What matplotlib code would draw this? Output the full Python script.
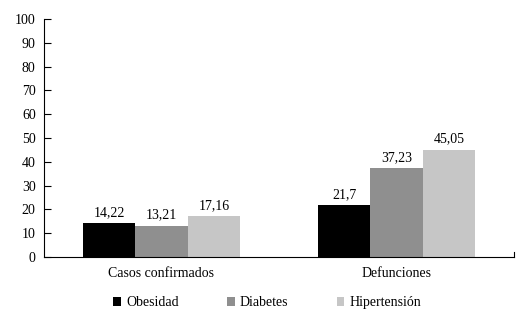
import matplotlib
matplotlib.use("Agg")
import matplotlib.pyplot as plt
import numpy as np

plt.rcParams['font.family'] = ['Liberation Serif', 'DejaVu Serif']

categories = ['Casos confirmados', 'Defunciones']
series = ['Obesidad', 'Diabetes', 'Hipertensión']
values = {
    'Obesidad': [14.22, 21.7],
    'Diabetes': [13.21, 37.23],
    'Hipertensión': [17.16, 45.05],
}
value_labels = {
    'Obesidad': ['14,22', '21,7'],
    'Diabetes': ['13,21', '37,23'],
    'Hipertensión': ['17,16', '45,05'],
}
colors = ['#000000', '#8f8f8f', '#c6c6c6']

fig = plt.figure(figsize=(5.27, 3.23), dpi=100)
ax = fig.add_axes([0.0835, 0.2043, 0.8918, 0.7369])

x = np.arange(len(categories))
width = 0.223
for i, s in enumerate(series):
    pos = x + (i - 1) * width
    bars = ax.bar(pos, values[s], width, color=colors[i], label=s)
    for b, lab in zip(bars, value_labels[s]):
        ax.annotate(lab, (b.get_x() + b.get_width() / 2, b.get_height()),
                    xytext=(0, 3), textcoords='offset points',
                    ha='center', va='bottom', fontsize=10)

ax.set_xlim(-0.5, 1.5)
ax.set_ylim(0, 100)
ax.set_yticks(range(0, 101, 10))
ax.tick_params(axis='y', direction='in', length=5, labelsize=10, pad=6)
ax.set_xticks(x)
ax.set_xticklabels(categories, fontsize=10)
ax.tick_params(axis='x', length=0, pad=7)
ax.spines['top'].set_visible(False)
ax.spines['right'].set_visible(False)
# small tick at the right end of the category axis
ax.plot([1.5, 1.5], [0, 2], color='black', lw=0.8, clip_on=False)

handles, labels = ax.get_legend_handles_labels()
fig.legend(handles, labels, loc='center', bbox_to_anchor=(0.507, 0.062), ncol=3,
           frameon=False, fontsize=10, handlelength=0.55, handleheight=0.55,
           handletextpad=0.35, columnspacing=3.5)

fig.savefig('out.png', dpi=100, facecolor='white')
